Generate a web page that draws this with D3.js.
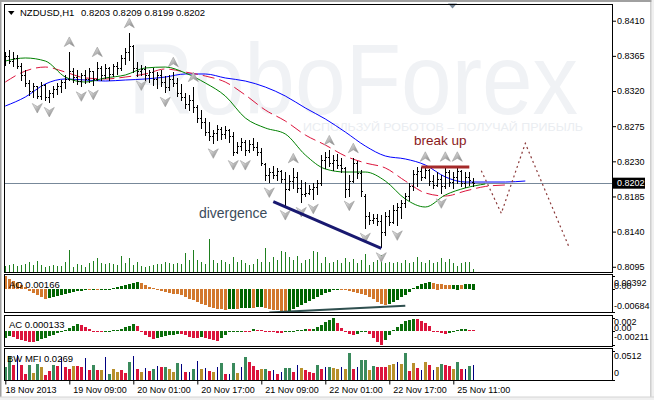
<!DOCTYPE html>
<html><head><meta charset="utf-8">
<script src="https://cdn.jsdelivr.net/npm/d3@7/dist/d3.min.js"></script>
<style>
body{margin:0;background:#fff;}
svg{display:block;}
text{font-family:"Liberation Sans",Arial,sans-serif;}
</style></head>
<body><svg id="c" width="654" height="400"></svg>
<script>
// ---------------- DATA ----------------
const symbol = "NZDUSD,H1";
const opens = [0.8360,0.8365,0.8358,0.8362,0.8352,0.8340,0.8330,0.8320,0.8326,0.8314,
0.8328,0.8312,0.8318,0.8322,0.8326,0.8331,0.8336,0.8345,0.8338,0.8333,
0.8340,0.8336,0.8345,0.8335,0.8350,0.8340,0.8350,0.8342,0.8352,0.8350,
0.8362,0.8370,0.8378,0.8350,0.8345,0.8348,0.8340,0.8344,0.8336,0.8340,
0.8332,0.8325,0.8336,0.8330,0.8318,0.8312,0.8303,0.8309,0.8300,0.8285,
0.8280,0.8268,0.8262,0.8266,0.8272,0.8265,0.8270,0.8262,0.8242,0.8250,
0.8255,0.8245,0.8252,0.8248,0.8242,0.8226,0.8212,0.8216,0.8213,0.8218,
0.8208,0.8195,0.8205,0.8210,0.8196,0.8188,0.8190,0.8194,0.8197,0.8202,
0.8232,0.8236,0.8228,0.8232,0.8225,0.8222,0.8195,0.8205,0.8228,0.8215,
0.8185,0.8160,0.8155,0.8158,0.8154,0.8140,0.8160,0.8152,0.8168,0.8172,
0.8176,0.8186,0.8198,0.8214,0.8218,0.8210,0.8219,0.8205,0.8200,0.8208,
0.8198,0.8216,0.8204,0.8210,0.8218,0.8202,0.8210,0.8203];
const highs = [0.8370,0.8372,0.8370,0.8366,0.8356,0.8347,0.8334,0.8330,0.8327,0.8331,
0.8329,0.8321,0.8327,0.8330,0.8334,0.8340,0.8370,0.8349,0.8347,0.8343,
0.8347,0.8349,0.8346,0.8357,0.8352,0.8355,0.8351,0.8355,0.8357,0.8366,
0.8375,0.8394,0.8379,0.8357,0.8353,0.8352,0.8347,0.8349,0.8344,0.8347,
0.8339,0.8340,0.8344,0.8337,0.8329,0.8317,0.8315,0.8325,0.8302,0.8296,
0.8285,0.8280,0.8270,0.8276,0.8274,0.8275,0.8271,0.8268,0.8255,0.8260,
0.8257,0.8257,0.8260,0.8255,0.8247,0.8228,0.8221,0.8224,0.8221,0.8219,
0.8216,0.8212,0.8221,0.8216,0.8206,0.8203,0.8200,0.8202,0.8206,0.8238,
0.8242,0.8244,0.8238,0.8240,0.8234,0.8223,0.8212,0.8234,0.8230,0.8219,
0.8188,0.8165,0.8163,0.8162,0.8161,0.8165,0.8168,0.8174,0.8177,0.8180,
0.8189,0.8202,0.8219,0.8223,0.8223,0.8223,0.8220,0.8212,0.8216,0.8212,
0.8223,0.8219,0.8216,0.8223,0.8219,0.8216,0.8216,0.8209];
const lows = [0.8353,0.8356,0.8352,0.8350,0.8334,0.8326,0.8315,0.8312,0.8311,0.8310,
0.8308,0.8306,0.8312,0.8316,0.8319,0.8324,0.8334,0.8331,0.8329,0.8326,
0.8330,0.8331,0.8328,0.8334,0.8334,0.8337,0.8334,0.8339,0.8342,0.8347,
0.8355,0.8360,0.8344,0.8339,0.8340,0.8334,0.8331,0.8328,0.8324,0.8326,
0.8319,0.8321,0.8326,0.8314,0.8308,0.8298,0.8296,0.8293,0.8280,0.8273,
0.8264,0.8257,0.8253,0.8257,0.8259,0.8260,0.8255,0.8238,0.8241,0.8244,
0.8238,0.8242,0.8244,0.8238,0.8225,0.8206,0.8203,0.8209,0.8206,0.8203,
0.8174,0.8193,0.8196,0.8191,0.8178,0.8185,0.8188,0.8182,0.8188,0.8200,
0.8221,0.8224,0.8219,0.8221,0.8216,0.8184,0.8186,0.8203,0.8209,0.8186,
0.8145,0.8150,0.8151,0.8148,0.8120,0.8136,0.8149,0.8151,0.8148,0.8157,
0.8171,0.8180,0.8193,0.8198,0.8206,0.8209,0.8200,0.8196,0.8198,0.8189,
0.8196,0.8198,0.8196,0.8202,0.8198,0.8197,0.8200,0.8199];
const closes = [0.8365,0.8358,0.8362,0.8352,0.8340,0.8330,0.8320,0.8326,0.8314,0.8328,
0.8312,0.8318,0.8322,0.8326,0.8331,0.8336,0.8345,0.8338,0.8333,0.8340,
0.8336,0.8345,0.8335,0.8350,0.8340,0.8350,0.8342,0.8352,0.8350,0.8362,
0.8370,0.8378,0.8350,0.8345,0.8348,0.8340,0.8344,0.8336,0.8340,0.8332,
0.8325,0.8336,0.8330,0.8318,0.8312,0.8303,0.8309,0.8300,0.8285,0.8280,
0.8268,0.8262,0.8266,0.8272,0.8265,0.8270,0.8262,0.8242,0.8250,0.8255,
0.8245,0.8252,0.8248,0.8242,0.8228,0.8212,0.8216,0.8213,0.8218,0.8208,
0.8195,0.8205,0.8210,0.8196,0.8188,0.8190,0.8194,0.8197,0.8202,0.8232,
0.8236,0.8228,0.8232,0.8225,0.8222,0.8195,0.8205,0.8228,0.8215,0.8192,
0.8160,0.8155,0.8158,0.8154,0.8140,0.8160,0.8152,0.8168,0.8172,0.8176,
0.8186,0.8198,0.8214,0.8218,0.8210,0.8219,0.8205,0.8200,0.8208,0.8198,
0.8216,0.8204,0.8210,0.8218,0.8202,0.8210,0.8206,0.8202];
const volumes = [600,700,800,600,700,800,1000,700,1100,700,
500,600,700,600,600,1000,2200,500,800,700,
500,900,1100,1400,900,800,900,800,700,1600,
900,1400,700,1000,600,500,600,700,800,800,
1000,900,800,900,800,1900,1200,2200,1200,1000,
800,3300,1200,900,1200,1000,800,1500,1000,1200,
900,700,800,1300,1000,2400,1000,1500,1200,2100,
2000,1500,1200,1600,900,1200,1300,2100,2000,900,
1500,900,1000,1200,900,1400,1000,1300,900,1200,
1800,700,1000,1200,1700,900,1000,900,1000,900,
1200,900,1000,1500,1000,900,1200,900,1000,1400,
1000,1300,900,600,900,1000,1000,300];
// Alligator lines, sampled every 5 bars
const jawVals = [0.83008,0.83123,0.8329,0.83354,0.83341,0.83328,0.83341,0.83354,0.83379,0.83418,
0.83418,0.83367,0.83328,0.83251,0.83136,0.82983,0.82842,0.82675,0.82496,0.82368,
0.8233,0.82253,0.821,0.82035,0.82035,0.82035,0.82048];
const teethVals = [0.83315,0.83456,0.83507,0.83443,0.83367,0.83354,0.83379,0.83418,0.83482,0.83443,
0.83392,0.83315,0.83149,0.82957,0.82816,0.82637,0.82509,0.82368,0.82279,0.82215,
0.82048,0.81895,0.81856,0.8192,0.81978,0.81997];
const lipsVals = [0.83584,0.83623,0.83584,0.83379,0.83315,0.83367,0.83405,0.83495,0.83507,0.83431,
0.83303,0.83136,0.82855,0.82727,0.8265,0.82381,0.82202,0.82163,0.82163,0.82048,
0.81818,0.81715,0.81869,0.81959,0.8201];
const upFractals = [16,23,31,42,47,72,81,87,105,110,113];
const downFractals = [8,11,19,22,34,40,52,57,60,66,70,74,77,86,90,94,98,109];
const aoVals = [0.00392,0.0030,0.0024,0.0018,0.0012,0.0006,-0.0006,-0.0012,-0.0018,-0.0024,
-0.0030,-0.0027,-0.0024,-0.0021,-0.0018,-0.0015,-0.0012,-0.0009,-0.0006,-0.00045,
-0.0003,-0.00036,-0.00024,-0.0003,-0.00015,-0.00009,0.00006,0.0003,0.0006,0.0009,
0.0012,0.0015,0.0018,0.0021,0.0018,0.0012,0.0006,0.0003,0.00015,-0.0006,
-0.0009,-0.0012,-0.00135,-0.0015,-0.0019,-0.0024,-0.0030,-0.0033,-0.0039,-0.0045,
-0.0048,-0.0054,-0.0057,-0.0060,-0.0061,-0.00615,-0.0060,-0.00585,-0.00594,-0.00579,
-0.0057,-0.00558,-0.00567,-0.00552,-0.0054,-0.00555,-0.00585,-0.00615,-0.00639,-0.00663,
-0.00684,-0.0066,-0.0060,-0.0054,-0.0048,-0.0042,-0.0036,-0.0030,-0.0024,-0.0018,
-0.0012,-0.00075,-0.0003,0.00015,0,-0.0003,-0.0006,-0.0009,-0.0012,-0.0015,
-0.00165,-0.0024,-0.0030,-0.00375,-0.00435,-0.0048,-0.0045,-0.0039,-0.00315,-0.0024,
-0.00165,-0.00075,0.0003,0.0009,0.0015,0.0018,0.00204,0.00186,0.00165,0.00144,
0.00126,0.00114,0.0012,0.00135,0.00132,0.0015,0.00156,0.00166];
const acVals = [-0.00103,-0.00074,-0.00088,-0.00118,-0.00132,-0.00147,-0.00162,-0.00169,-0.00147,-0.00125,
-0.00103,-0.00081,-0.00059,-0.00037,-0.00015,0.00022,0.00051,0.00081,0.00103,0.00088,
0.00059,0.00029,0.00007,-0.00007,-0.00015,-0.00007,0.00007,0.00015,0.00022,0.00037,
0.00059,0.00081,0.00103,0.00074,0.00007,-0.00063,-0.00088,-0.00113,-0.0011,-0.00088,
-0.00078,-0.00063,-0.00054,-0.0004,-0.00041,-0.00063,-0.00088,-0.00098,-0.001,-0.00093,
-0.00098,-0.00113,-0.00137,-0.00147,-0.00103,-0.00059,-0.00022,-0.00007,0.00004,0.00007,
-0.00007,-0.00015,0.00026,0.00022,0.00015,-0.00007,-0.00015,-0.00022,-0.00029,-0.00032,
-0.00022,-0.00007,0.00007,0.00015,0.00022,0.00029,0.00025,0.00037,0.00059,0.00088,
0.00132,0.00169,0.0019,0.00118,0.00044,-0.00015,-0.00044,-0.00066,-0.00051,-0.00022,
-0.00007,-0.00044,-0.00103,-0.00162,-0.00211,-0.00132,-0.00059,0.00015,0.00059,0.00103,
0.00147,0.00169,0.00184,0.00176,0.00154,0.00118,0.00074,-0.00007,-0.00022,-0.00037,
-0.00049,-0.00037,-0.00015,0.00015,0.00029,0.00037,0.00022,0.000133];
const mfiVals = [0.0230,0.0425,0.0266,0.0443,0.0266,0.0106,0.0266,0.0124,0.0283,0.0230,
0.0089,0.0159,0.0266,0.0248,0.0407,0.0230,0.0195,0.0248,0.0248,0.0230,
0.0389,0.0177,0.0266,0.0177,0.0177,0.0407,0.0106,0.0195,0.0142,0.0177,
0.0124,0.0319,0.0425,0.0195,0.0142,0.0212,0.0159,0.0189,0.0248,0.0230,
0.0230,0.0189,0.0142,0.0301,0.0283,0.0142,0.0142,0.0189,0.0336,0.0189,
0.0212,0.0159,0.0142,0.0225,0.0301,0.0106,0.0106,0.0301,0.0124,0.0230,
0.0407,0.0319,0.0248,0.0177,0.0195,0.0195,0.0159,0.0177,0.0106,0.0142,
0.0212,0.0212,0.0142,0.0266,0.0212,0.0177,0.0142,0.0124,0.0266,0.0195,
0.0230,0.0230,0.0212,0.0195,0.0230,0.0195,0.0478,0.0195,0.0230,0.0354,
0.0354,0.0177,0.0248,0.0230,0.0230,0.0230,0.0266,0.0283,0.0319,0.0283,
0.0478,0.0159,0.0301,0.0212,0.0177,0.0319,0.0266,0.0177,0.0230,0.0283,
0.0266,0.0248,0.0195,0.0319,0.0195,0.0195,0.0248,0.0269];
// G = green (MFI+,vol+), F = fade, K = fake, S = squat
const mfiTypes = ("GGSKSSGFGF"+"SSGSKSSFSS"+"KSGSFKGFFS"+"SGKSFKSGKS"+"GFFGKSKGKF"+
 "KSFKGSKGFK"+"GSSSFGSKSK"+"GGSKFSSSGS"+"KGFFKFGSKG"+"GFGSSSFFKF"+"GSFSKFSKFG"+"SSFGSKGK").split("");
const priceTicks = [0.8410,0.8365,0.8320,0.8275,0.8230,0.8185,0.8140,0.8095];
const dateIdx = [0,16,32,48,64,80,96,112];
const dateLabels = ["18 Nov 2013","19 Nov 09:00","20 Nov 01:00","20 Nov 17:00","21 Nov 09:00","22 Nov 01:00","22 Nov 17:00","25 Nov 11:00"];
const aoTicks = [0.00392,0,-0.00684], aoTickText = ["0.00392","0.00","-0.00684"];
const acTicks = [0.002,0,-0.00211], acTickText = ["0.002","0.00","-0.00211"];
const mfiTicks = [0.0512,0], mfiTickText = ["0.0512","0"];
// annotations
const divIdx = [67,94], divPrice = [0.81783,0.81187];
const aoDivIdx = [66,100], aoDivVals = [-0.0070,-0.0050];
const breakIdx = [104,116], breakPrice = 0.82227;
const projIdx = [119,124,130,141], projPrice = [0.8218,0.81635,0.8253,0.81194];
const breakLabel = {text:"break up", idx:102.2, price:0.82509};
const divLabel = {text:"divergence", idx:48.4, price:0.81575};

// ---------------- SCALES ----------------
const svg = d3.select("#c");
const N = opens.length;
const xs = d3.scaleLinear().domain([0,150]).range([5.3,605.3]);
const yP = d3.scaleLinear().domain([0.80883,0.84314]).range([272,4]);
const yV = d3.scaleLinear().domain([0,10000]).range([272,172]);
const yAO = d3.scaleLinear().domain([-0.00684,0.00392]).range([312,276]);
const yAC = d3.scaleLinear().domain([-0.00211,0.002]).range([345.1,317.6]);
const yMFI = d3.scaleLinear().domain([0,0.0512]).range([380,351]);
const px = i => Math.round(xs(i)) + 0.5;

// window chrome
svg.append("rect").attr("width",654).attr("height",400).attr("fill","#fff");
svg.append("rect").attr("x",0).attr("y",0).attr("width",654).attr("height",2).attr("fill","#a0a0a0");
svg.append("rect").attr("x",0).attr("y",0).attr("width",1.5).attr("height",397).attr("fill","#a0a0a0");
svg.append("rect").attr("x",650.5).attr("y",0).attr("width",1).attr("height",397).attr("fill","#a0a0a0");
svg.append("rect").attr("x",651.5).attr("y",0).attr("width",3).attr("height",400).attr("fill","#f0f0f0");
svg.append("rect").attr("x",0).attr("y",397).attr("width",654).attr("height",3).attr("fill","#f0f0f0");
svg.append("line").attr("x1",0).attr("x2",654).attr("y1",397).attr("y2",397).attr("stroke","#d4d4d4");

const defs = svg.append("defs");
const clip = (id,y0,y1)=>defs.append("clipPath").attr("id",id).append("rect")
  .attr("x",4.5).attr("y",y0).attr("width",607.5).attr("height",y1-y0);
clip("cm",4.5,272); clip("cao",274.5,312.5); clip("cac",315.5,346.5); clip("cmfi",348.5,380);
const grad = defs.append("linearGradient").attr("id","fg").attr("x1",0).attr("y1",0).attr("x2",1).attr("y2",1);
grad.append("stop").attr("offset","0%").attr("stop-color","#f4f4f4");
grad.append("stop").attr("offset","100%").attr("stop-color","#7a7a7a");

// ---------------- MAIN PANEL ----------------
const gm = svg.append("g").attr("clip-path","url(#cm)");
// watermark (very light)
gm.append("text").attr("transform","translate(128,114) scale(1,1.1)").attr("font-size",91)
  .attr("fill","#f0f2f5").text("RoboForex");
gm.append("text").attr("x",303).attr("y",131).attr("font-size",11.5)
  .attr("textLength",280).attr("lengthAdjust","spacingAndGlyphs").attr("fill","#eaedf1")
  .text("ИСПОЛЬЗУЙ РОБОТОВ – ПОЛУЧАЙ ПРИБЫЛЬ");

// current price line
const lastClose = closes[N-1];
gm.append("line").attr("x1",4).attr("x2",612)
  .attr("y1",Math.round(yP(lastClose))+0.5).attr("y2",Math.round(yP(lastClose))+0.5)
  .attr("stroke","#778899").attr("stroke-width",1);

// volumes
gm.append("g").selectAll("line").data(volumes).join("line")
  .attr("x1",(d,i)=>px(i)).attr("x2",(d,i)=>px(i))
  .attr("y1",yV(0)).attr("y2",d=>yV(d))
  .attr("stroke","#1f7f1f").attr("stroke-width",1).attr("shape-rendering","crispEdges");

// alligator
const ma = (vals,color,dash)=>{
  const pts = vals.map((v,k)=>[k*5,v]);
  gm.append("path").datum(pts)
    .attr("d",d3.line().x(d=>xs(d[0])).y(d=>yP(d[1])).curve(d3.curveMonotoneX))
    .attr("fill","none").attr("stroke",color).attr("stroke-width",1)
    .attr("stroke-dasharray",dash||null);
};
ma(jawVals,"#0000ff");
ma(teethVals,"#dc143c","12,5");
ma(lipsVals,"#008000");

// OHLC bars
gm.append("g").selectAll("path").data(d3.range(N)).join("path")
  .attr("d",i=>{
    const x=px(i), yh=Math.round(yP(highs[i])), yl=Math.round(yP(lows[i]))+1,
      yo=Math.round(yP(opens[i]))+0.5, yc=Math.round(yP(closes[i]))+0.5;
    return `M${x},${yh}V${yl}M${x-1.5},${yo}H${x}M${x},${yc}H${x+1.5}`;
  })
  .attr("stroke","#000").attr("stroke-width",1).attr("fill","none").attr("shape-rendering","crispEdges");

// fractals
const upPath = "M0,-5L5,4.5L0,1.5L-5,4.5Z", dnPath = "M0,5L5,-4.5L0,-1.5L-5,-4.5Z";
gm.append("g").selectAll("path").data(upFractals).join("path")
  .attr("transform",i=>`translate(${xs(i)},${yP(highs[i])-10})`).attr("d",upPath)
  .attr("fill","url(#fg)").attr("stroke","#9a9a9a").attr("stroke-width",0.6);
gm.append("g").selectAll("path").data(downFractals).join("path")
  .attr("transform",i=>`translate(${xs(i)},${yP(lows[i])+10})`).attr("d",dnPath)
  .attr("fill","url(#fg)").attr("stroke","#9a9a9a").attr("stroke-width",0.6);

// annotations
gm.append("line").attr("x1",xs(divIdx[0])).attr("y1",yP(divPrice[0]))
  .attr("x2",xs(divIdx[1])).attr("y2",yP(divPrice[1]))
  .attr("stroke","#191970").attr("stroke-width",3);
gm.append("line").attr("x1",xs(breakIdx[0])).attr("x2",xs(breakIdx[1]))
  .attr("y1",yP(breakPrice)).attr("y2",yP(breakPrice))
  .attr("stroke","#a52a2a").attr("stroke-width",3);
gm.append("path").datum(projIdx.map((d,k)=>[d,projPrice[k]]))
  .attr("d",d3.line().x(d=>xs(d[0])).y(d=>yP(d[1])))
  .attr("fill","none").attr("stroke","#8b3a3a").attr("stroke-width",1.2).attr("stroke-dasharray","2,3");
gm.append("text").attr("x",xs(breakLabel.idx)).attr("y",yP(breakLabel.price))
  .attr("font-size",13.5).attr("fill","#8b1a1a").text(breakLabel.text);
gm.append("text").attr("x",xs(divLabel.idx)).attr("y",yP(divLabel.price))
  .attr("font-size",14).attr("fill","#3b4b5b").text(divLabel.text);

// header
svg.append("path").attr("d","M8,11L14.5,11L11.25,15Z").attr("fill","#000");
svg.append("text").attr("x",20).attr("y",16).attr("font-size",9.5).text(symbol);
const f4 = d3.format(".4f");
svg.append("text").attr("x",81).attr("y",16).attr("font-size",9.5)
  .text([opens[N-1],highs[N-1],lows[N-1],closes[N-1]].map(f4).join(" "));
// chart shift marker
svg.append("path").attr("d","M448,3.5L457,3.5L452.5,8.5Z").attr("fill","#778899");

// price axis
const pax = svg.append("g").attr("transform","translate(612,0)")
  .call(d3.axisRight(yP).tickValues(priceTicks).tickSize(4).tickPadding(1).tickFormat(f4));
pax.select(".domain").remove();
pax.selectAll("text").attr("font-size",9).attr("font-family","Liberation Sans, Arial, sans-serif");
pax.selectAll("line").attr("stroke","#000");
const cy = yP(lastClose);
svg.append("rect").attr("x",613).attr("y",cy-5.5).attr("width",32).attr("height",11).attr("fill","#000");
svg.append("text").attr("x",617).attr("y",cy+3.2).attr("font-size",9).attr("fill","#fff").text(f4(lastClose));

// ---------------- AO ----------------
const gao = svg.append("g").attr("clip-path","url(#cao)");
gao.selectAll("rect").data(aoVals).join("rect")
  .attr("x",(d,i)=>Math.round(xs(i))-1).attr("width",3)
  .attr("y",d=>Math.round(Math.min(yAO(d),yAO(0))))
  .attr("height",d=>Math.max(1,Math.round(Math.abs(yAO(d)-yAO(0)))))
  .attr("fill",(d,i)=> (i>0 && d>aoVals[i-1]) ? "#006400" : "#d2782d")
  .attr("shape-rendering","crispEdges");
gao.append("line").attr("x1",xs(aoDivIdx[0])).attr("y1",yAO(aoDivVals[0]))
  .attr("x2",xs(aoDivIdx[1])).attr("y2",yAO(aoDivVals[1]))
  .attr("stroke","#2f4f4f").attr("stroke-width",2);
svg.append("text").attr("x",9).attr("y",287.5).attr("font-size",9.5).text("AO "+d3.format(".5f")(aoVals[N-1]));

// ---------------- AC ----------------
const gac = svg.append("g").attr("clip-path","url(#cac)");
gac.selectAll("rect").data(acVals).join("rect")
  .attr("x",(d,i)=>Math.round(xs(i))-1).attr("width",3)
  .attr("y",d=>Math.round(Math.min(yAC(d),yAC(0))))
  .attr("height",d=>Math.max(1,Math.round(Math.abs(yAC(d)-yAC(0)))))
  .attr("fill",(d,i)=> (i===0 || d>acVals[i-1]) ? "#0b6e0b" : "#dc143c")
  .attr("shape-rendering","crispEdges");
svg.append("text").attr("x",9).attr("y",327.5).attr("font-size",9.5).text("AC "+d3.format(".6f")(acVals[N-1]));

// ---------------- BW MFI ----------------
const mfiColor = {G:"#3a8a5c",F:"#b8902c",K:"#000080",S:"#dc143c"};
const gmfi = svg.append("g").attr("clip-path","url(#cmfi)");
gmfi.selectAll("rect").data(mfiVals).join("rect")
  .attr("x",(d,i)=> mfiTypes[i]==="K" ? Math.round(xs(i)) : Math.round(xs(i))-1)
  .attr("width",(d,i)=> mfiTypes[i]==="K" ? 1 : 3)
  .attr("y",d=>Math.round(yMFI(d))).attr("height",d=>yMFI(0)-Math.round(yMFI(d)))
  .attr("fill",(d,i)=>mfiColor[mfiTypes[i]]).attr("shape-rendering","crispEdges");
svg.append("text").attr("x",7).attr("y",361.5).attr("font-size",9.5).text("BW MFI "+d3.format(".4f")(mfiVals[N-1]));

// panel frames
[[4.5,272.5],[274.5,312.5],[315.5,346.5],[348.5,380.5]].forEach(([a,b])=>{
  svg.append("rect").attr("x",4.5).attr("y",a).attr("width",608).attr("height",b-a)
    .attr("fill","none").attr("stroke","#000").attr("stroke-width",1).attr("shape-rendering","crispEdges");
});

// sub-panel scale labels
const subLabels = (ticks,texts,scale,offs)=>{
  ticks.forEach((t,k)=>{
    const y = scale(t)+offs[k];
    svg.append("line").attr("x1",612).attr("x2",615).attr("y1",Math.round(scale(t))+0.5).attr("y2",Math.round(scale(t))+0.5)
      .attr("stroke","#000").attr("shape-rendering","crispEdges");
    svg.append("text").attr("x",614).attr("y",y+3.2).attr("font-size",9).text(texts[k]);
  });
};
subLabels(aoTicks,aoTickText,yAO,[6.5,-3.4,-6]);
subLabels(acTicks,acTickText,yAC,[4.4,-2.7,-8]);
subLabels(mfiTicks,mfiTickText,yMFI,[5,-7]);

// date axis
const dax = svg.append("g").attr("transform","translate(0,380.5)")
  .call(d3.axisBottom(xs).tickValues(dateIdx).tickSize(4).tickFormat((d,k)=>dateLabels[k]));
dax.select(".domain").remove();
dax.selectAll("line").attr("stroke","#000");
dax.selectAll("text").attr("font-size",9).attr("font-family","Liberation Sans, Arial, sans-serif")
  .attr("text-anchor","start").attr("dy",null).attr("y",12)
  .attr("x",(d,k)=> k===0 ? -0.3 : 3.5);
</script></body></html>
